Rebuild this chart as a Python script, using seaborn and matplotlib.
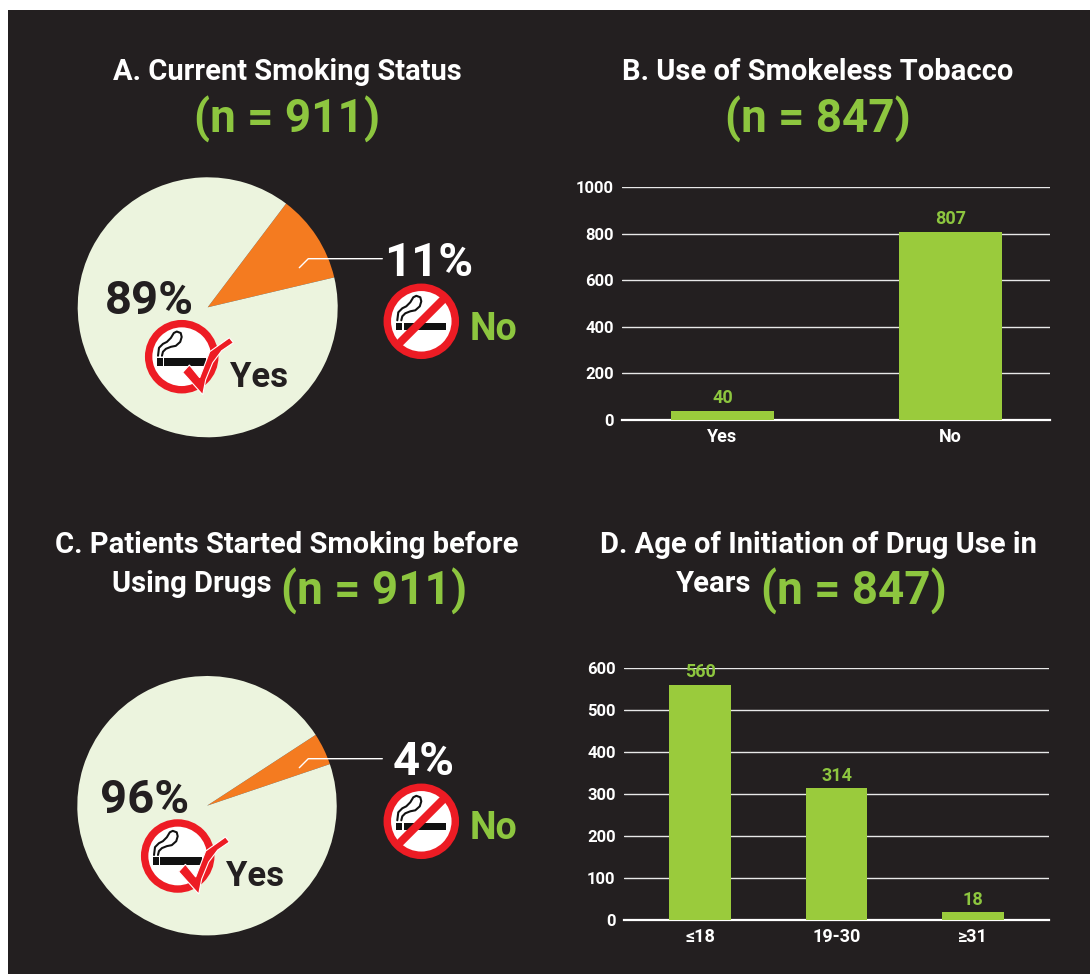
import matplotlib
matplotlib.use("Agg")
import matplotlib.pyplot as plt
import matplotlib.patches as mp
import seaborn as sns
import pandas as pd

W, H = 1090, 974
DARK = "#231f20"
GREEN = "#9acb3c"
GREEN_TXT = "#8dc63f"
PALE = "#ecf4de"
ORANGE = "#f47b20"
RED = "#ed1c24"

smoking_labels = ["No", "Yes"]
smoking_vals = [11, 89]
before_labels = ["No", "Yes"]
before_vals = [4, 96]

tobacco_cats = ["Yes", "No"]
tobacco_vals = [40, 807]
tobacco_ticks = [0, 200, 400, 600, 800, 1000]

age_cats = ["≤18", "19-30", "≥31"]
age_vals = [560, 314, 18]
age_ticks = [0, 100, 200, 300, 400, 500, 600]

sns.set_theme(style="dark")
plt.rcParams["font.family"] = ["Roboto", "DejaVu Sans"]
plt.rcParams["font.weight"] = "bold"

fig = plt.figure(figsize=(W / 100, H / 100), dpi=100, facecolor="white")


def px_axes(x0, y0, x1, y1, **kw):
    return fig.add_axes([x0 / W, 1 - y1 / H, (x1 - x0) / W, (y1 - y0) / H], **kw)


# page coordinates, same as the picture
back = px_axes(0, 0, W, H)
back.set_xlim(0, W)
back.set_ylim(H, 0)
back.axis("off")
back.add_patch(mp.Rectangle((8, 10), W - 8, H - 10, color=DARK, lw=0))


def pie(cx, cy, r, vals, start):
    ax = px_axes(cx - r, cy - r, cx + r, cy + r)
    ax.pie(vals, colors=[ORANGE, PALE], startangle=start, radius=1,
           wedgeprops={"linewidth": 0})
    ax.set_xlim(-1, 1)
    ax.set_ylim(-1, 1)
    ax.patch.set_alpha(0)


def bars(box, cats, vals, ticks, xlim, ymax, fs_val):
    ax = px_axes(*box)
    df = pd.DataFrame({"cat": cats, "val": vals})
    sns.barplot(data=df, x="cat", y="val", color=GREEN, saturation=1, width=0.453,
                linewidth=0, edgecolor="none", ax=ax, zorder=3)
    ax.set_facecolor("none")
    ax.set_xlim(*xlim)
    ax.set_ylim(0, ymax)
    ax.set_yticks(ticks)
    ax.set_xlabel("")
    ax.set_ylabel("")
    ax.grid(axis="y", color="white", lw=1, alpha=0.9)
    ax.grid(axis="x", visible=False)
    ax.set_axisbelow(True)
    for s in ["top", "right", "left"]:
        ax.spines[s].set_visible(False)
    ax.spines["bottom"].set_color("white")
    ax.spines["bottom"].set_linewidth(1.6)
    ax.tick_params(axis="y", length=0, colors="white", labelsize=12, pad=6)
    ax.tick_params(axis="x", length=0, colors="white", labelsize=13, pad=6)
    ax.bar_label(ax.containers[0], color=GREEN_TXT, fontsize=fs_val, padding=2.5,
                 fontweight="bold", zorder=5)


def ciggy(ax, cx, cy, k):
    ax.add_patch(mp.Rectangle((cx - 25 * k, cy + 1.5 * k), 50 * k, 7.5 * k,
                              fc="#111111", lw=0, zorder=11))
    ax.add_patch(mp.Rectangle((cx - 19 * k, cy + 1.5 * k), 1.2 * k, 7.5 * k,
                              fc="white", lw=0, zorder=11))
    # smoke, drawn as an open outline
    sx = [-24, -23, -19, -15, -11, -8, -5, -1, 0, -1.5, -6, -11, -16, -19, -20]
    sy = [-1, -9, -13, -15, -19, -24, -25.5, -24, -20, -15, -11, -10, -8, -5, -1]
    ax.plot([cx + a * k for a in sx], [cy + b * k for b in sy], color="#111111",
            lw=1.5 * k, zorder=11)


def no_icon(ax, cx, cy, r=37.5):
    k = r / 37.5
    ax.add_patch(mp.Circle((cx, cy), 34 * k, fc="white", ec=RED, lw=7.5 * k * 0.72, zorder=10))
    ciggy(ax, cx, cy, k)
    ax.plot([cx - 23.5 * k, cx + 23.5 * k], [cy + 23.5 * k, cy - 23.5 * k], color=RED,
            lw=8 * k * 0.72, solid_capstyle="butt", zorder=12)


def yes_icon(ax, cx, cy, r=37):
    k = r / 37.5
    ax.add_patch(mp.Circle((cx, cy), 33.5 * k, fc="white", ec=RED, lw=7.5 * k * 0.72, zorder=10))
    ciggy(ax, cx, cy, k)
    tick = [(1, 15.7), (7.7, 8.3), (18, 21), (28, -5), (47.7, -19), (51.7, -14),
            (40, -6), (31, 6), (24, 23), (21, 38)]
    ax.add_patch(mp.Polygon([(cx + a, cy + b) for a, b in tick], closed=True, fc=RED,
                            ec="white", lw=0.8, zorder=12))


bars((622, 187, 1050, 420), tobacco_cats, tobacco_vals, tobacco_ticks, (-0.44, 1.436), 1000, 13)
bars((624, 668, 1049, 920), age_cats, age_vals, age_ticks, (-0.557, 2.557), 600, 13)

pie(207.7, 307.3, 130, smoking_vals, 13.3)
pie(207, 805.7, 129.7, before_vals, 18.7)

# overlay for icons and annotations sits above the pies
top = px_axes(0, 0, W, H)
top.set_xlim(0, W)
top.set_ylim(H, 0)
top.axis("off")
top.patch.set_alpha(0)
back.set_zorder(0)
top.set_zorder(10)


def txt(x, y, s, size, color, ha="center"):
    top.text(x, y, s, fontsize=size, color=color, ha=ha, va="baseline", fontweight="bold",
             zorder=20)


for yo in (0, 500):
    top.plot([299.3, 308.3, 382.3], [267.7 + yo, 258.7 + yo, 258.7 + yo], color="white", lw=1)
    no_icon(top, 421.3, 321.3 + yo)
    txt(470, 340 + yo - (1 if yo else 0), "No", 27, GREEN_TXT, ha="left")

txt(429, 276, f"{smoking_vals[0]}%", 34, "white")
txt(423.5, 775, f"{before_vals[0]}%", 34, "white")
txt(149.5, 314, f"{smoking_vals[1]}%", 34, DARK)
txt(144.5, 813, f"{before_vals[1]}%", 34, DARK)

yes_icon(top, 181.7, 356.7)
txt(259, 387, "Yes", 25, DARK)
yes_icon(top, 177.7, 856)
txt(255, 886, "Yes", 25, DARK)

txt(287.5, 80, "A. Current Smoking Status", 21, "white")
txt(287.5, 133, "(n = 911)", 33, GREEN_TXT)
txt(818, 80, "B. Use of Smokeless Tobacco", 21, "white")
txt(818, 133, "(n = 847)", 33, GREEN_TXT)
txt(287, 553, "C. Patients Started Smoking before", 21, "white")
txt(272, 592, "Using Drugs", 21, "white", ha="right")
txt(281, 605, "(n = 911)", 33, GREEN_TXT, ha="left")
txt(818, 553, "D. Age of Initiation of Drug Use in", 21, "white")
txt(751, 592, "Years", 21, "white", ha="right")
txt(761, 605, "(n = 847)", 33, GREEN_TXT, ha="left")

fig.savefig("out.png", dpi=100, facecolor=fig.get_facecolor())
